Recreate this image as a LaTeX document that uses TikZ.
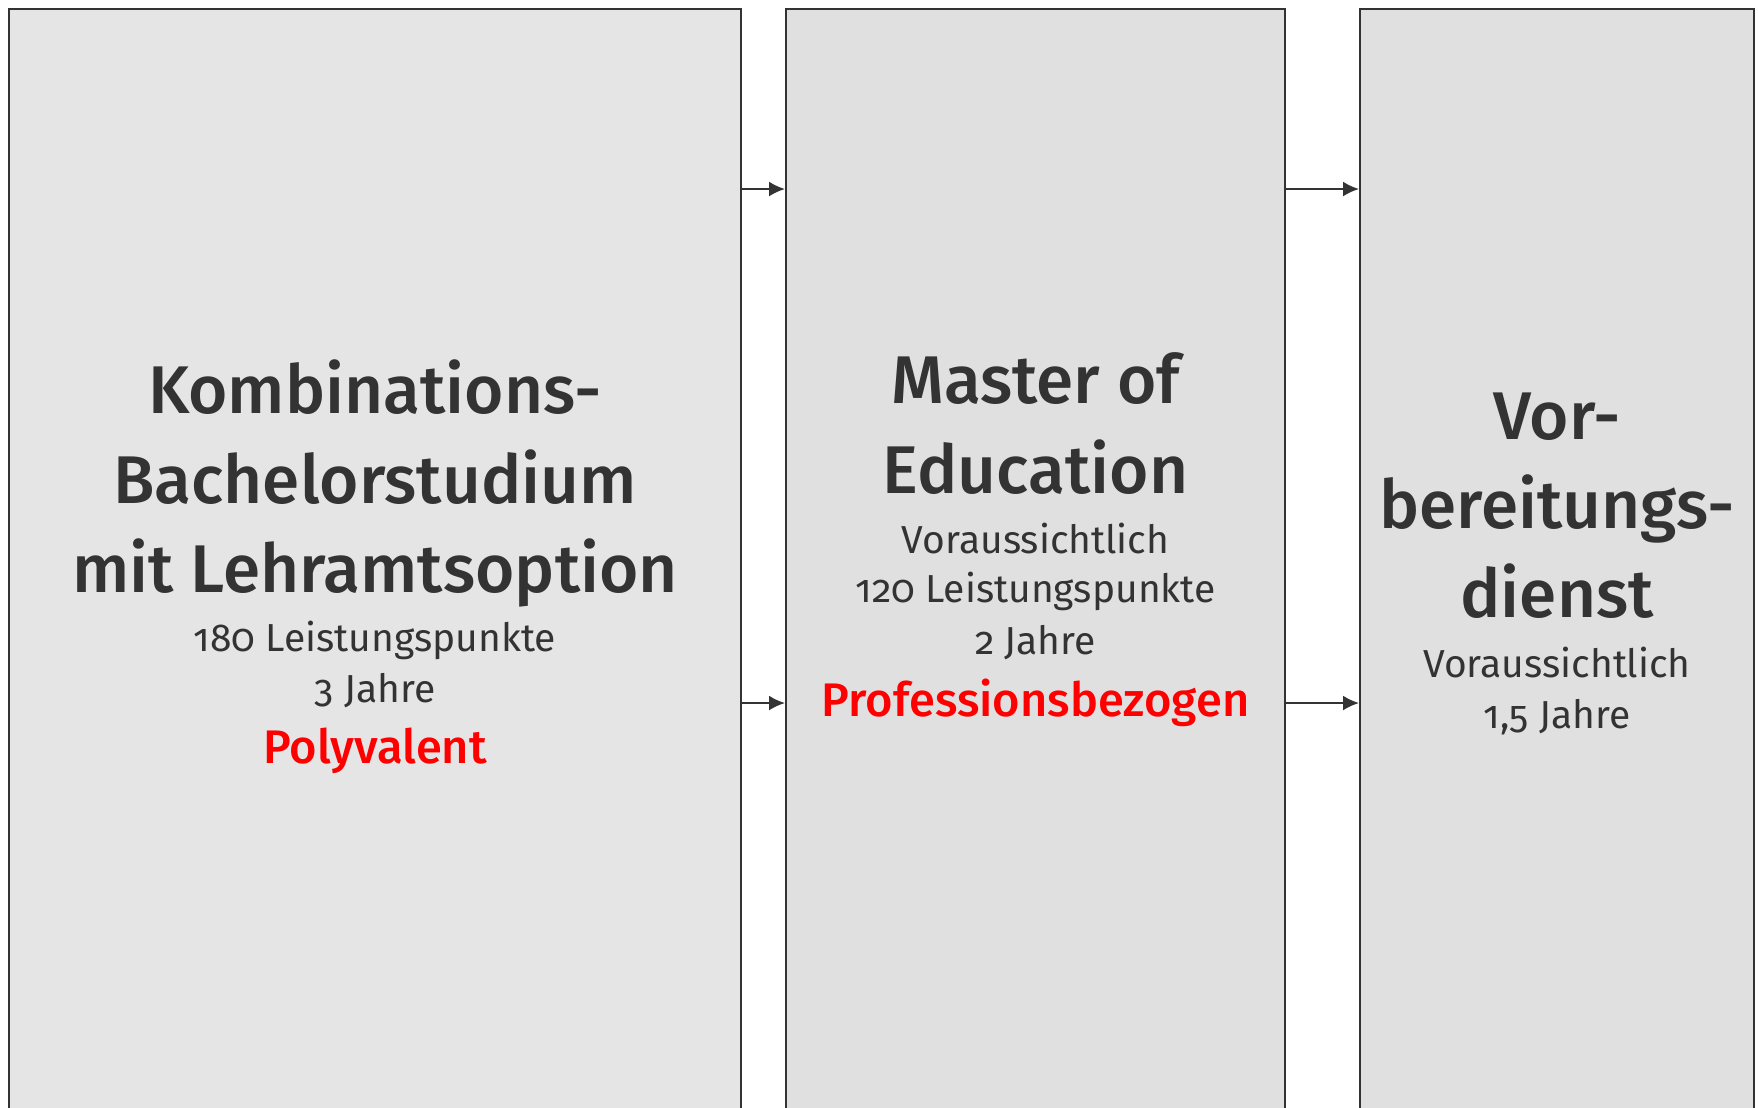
\documentclass[tikz,border=0pt]{standalone}
\usepackage{fontspec}
\setmainfont[Numbers=OldStyle]{Fira Sans}
\newfontfamily\strongfont[Numbers=OldStyle]{Fira Sans Medium}
\usetikzlibrary{positioning,calc,arrows.meta}
\definecolor{darkgray}{HTML}{333333}
\definecolor{boxgray}{HTML}{E5E5E5}
\definecolor{boxgraydark}{HTML}{E0E0E0}
\definecolor{signalred}{HTML}{FF0000}

\begin{document}
\begin{tikzpicture}
  [phase/.style={
    rectangle,
    draw=darkgray,
    line width=0.6pt,
    anchor=north west,
    minimum height=12cm,
    inner sep=0pt
    },
   heading/.style={anchor=base, text=darkgray, font=\strongfont\fontsize{19.2}{23}\selectfont},
   detail/.style={anchor=base, text=darkgray, font=\fontsize{11.1}{13}\selectfont},
   focus/.style={anchor=base, text=signalred, font=\strongfont\fontsize{13.4}{16}\selectfont},
   flow/.style={-{Latex[length=1.6mm,width=1.5mm]}, draw=darkgray, line width=0.6pt}
  ]
  \clip (0,0) rectangle (17.58,-11.07);

  % die drei Phasen
  \node [phase, fill=boxgray, minimum width=7.32cm] (bachelor) at (0.08,-0.08) {};
  \node [phase, fill=boxgraydark, minimum width=4.99cm] (master) at (7.85,-0.08) {};
  \node [phase, fill=boxgraydark, minimum width=3.94cm] (vd) at (13.59,-0.08) {};

  % Bachelor
  \node [heading] (bachelor1) at (bachelor.north |- 0,-4.13) {Kombinations-};
  \node [heading] (bachelor2) at (bachelor.north |- 0,-5.03) {Bachelorstudium};
  \node [heading] (bachelor3) at (bachelor.north |- 0,-5.92) {mit Lehramtsoption};
  \node [detail] (bachelorlp) at (bachelor.north |- 0,-6.51) {180 Leistungspunkte};
  \node [detail] (bachelorzeit) at (bachelor.north |- 0,-7.02) {3 Jahre};
  \node [focus] (bachelorprofil) at (bachelor.north |- 0,-7.63) {Polyvalent};

  % Master
  \node [heading] (master1) at (master.north |- 0,-4.03) {Master of};
  \node [heading] (master2) at (master.north |- 0,-4.93) {Education};
  \node [detail] (masterhinweis) at (master.north |- 0,-5.53) {Voraussichtlich};
  \node [detail] (masterlp) at (master.north |- 0,-6.02) {120 Leistungspunkte};
  \node [detail] (masterzeit) at (master.north |- 0,-6.54) {2 Jahre};
  \node [focus] (masterprofil) at (master.north |- 0,-7.16) {Professionsbezogen};

  % Vorbereitungsdienst
  \node [heading] (vd1) at (vd.north |- 0,-4.39) {Vor-};
  \node [heading] (vd2) at (vd.north |- 0,-5.28) {bereitungs-};
  \node [heading] (vd3) at (vd.north |- 0,-6.17) {dienst};
  \node [detail] (vdhinweis) at (vd.north |- 0,-6.77) {Voraussichtlich};
  \node [detail] (vdzeit) at (vd.north |- 0,-7.28) {1,5 Jahre};

  \draw[flow] ($(bachelor.north east)+(0,-1.81)$) -- ($(master.north west)+(0,-1.81)$);
  \draw[flow] ($(bachelor.north east)+(0,-6.95)$) -- ($(master.north west)+(0,-6.95)$);
  \draw[flow] ($(master.north east)+(0,-1.81)$) -- ($(vd.north west)+(0,-1.81)$);
  \draw[flow] ($(master.north east)+(0,-6.95)$) -- ($(vd.north west)+(0,-6.95)$);
\end{tikzpicture}
\end{document}
